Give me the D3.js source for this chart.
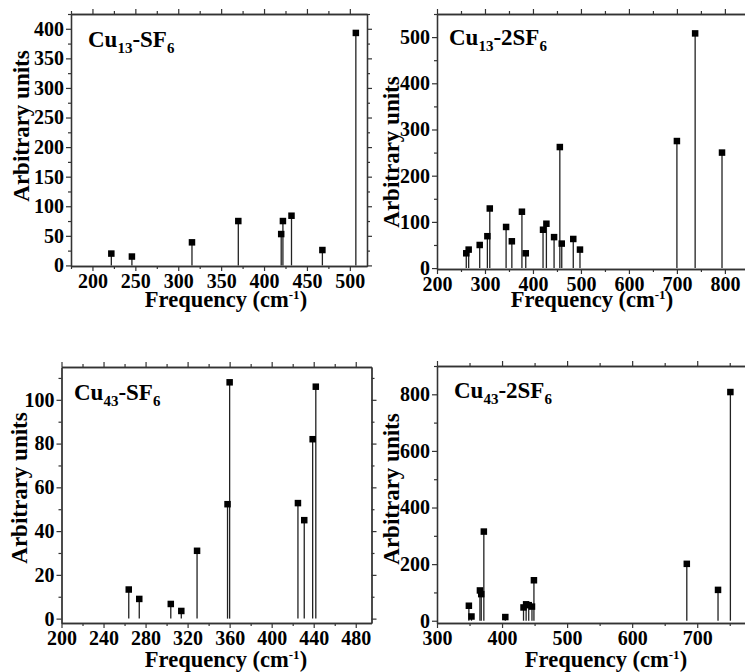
<!DOCTYPE html>
<html>
<head>
<meta charset="utf-8">
<script src="https://cdn.jsdelivr.net/npm/d3@7"></script>
<style>
  body { margin: 0; background: #fff; }
  svg { display: block; }
  .title { font-family: "Liberation Serif", "Times New Roman", serif; font-weight: bold; fill: #000; }
</style>
</head>
<body>
<script>
'use strict';

// Cu13-SF6
const freqA = [222, 246, 316, 370, 420, 422, 432, 468, 507];
const intA  = [20, 15, 39, 75, 53, 75, 84, 26, 393];
const xTicksA = [200, 250, 300, 350, 400, 450, 500];
const yTicksA = [0, 50, 100, 150, 200, 250, 300, 350, 400];

// Cu13-2SF6
const freqB = [261, 266, 289, 305, 310, 344, 356, 377, 385, 421, 428, 444, 456, 460, 484, 498, 700, 738, 794];
const intB  = [32, 40, 50, 69, 129, 89, 58, 122, 32, 83, 96, 67, 262, 53, 63, 40, 275, 508, 250];
const xTicksB = [200, 300, 400, 500, 600, 700, 800];
const yTicksB = [0, 100, 200, 300, 400, 500];

// Cu43-SF6
const freqC = [264, 274, 304, 314, 329, 358, 360, 425, 431, 439, 442];
const intC  = [13.3, 9, 6.7, 3.5, 31, 52.3, 108, 52.8, 45, 82, 106];
const xTicksC = [200, 240, 280, 320, 360, 400, 440, 480];
const yTicksC = [0, 20, 40, 60, 80, 100];

// Cu43-2SF6
const freqD = [349, 353, 366, 368, 372, 405, 433, 437, 441, 446, 449, 684, 732, 751];
const intD  = [53, 15, 107, 94, 315, 13, 47, 58, 55, 50, 143, 201, 109, 808];
const xTicksD = [300, 400, 500, 600, 700];
const yTicksD = [0, 200, 400, 600, 800];

const panels = [
	{ freq: freqA, inten: intA, xTicks: xTicksA, yTicks: yTicksA, sub: "13", mid: "-SF",
	  xDomain: [175, 520], yDomain: [-1, 425], box: [71, 14, 367, 266],
	  label: [88, 47], yTitle: [29, 126], xTitle: [226, 307] },
	{ freq: freqB, inten: intB, xTicks: xTicksB, yTicks: yTicksB, sub: "13", mid: "-2SF",
	  xDomain: [200, 844], yDomain: [-2, 550], box: [437, 14, 746, 269],
	  label: [449, 45], yTitle: [399, 152], xTitle: [592, 307] },
	{ freq: freqC, inten: intC, xTicks: xTicksC, yTicks: yTicksC, sub: "43", mid: "-SF",
	  xDomain: [200, 495], yDomain: [-2, 115], box: [61.5, 367, 371.5, 623],
	  label: [74, 400], yTitle: [27, 488], xTitle: [226, 667] },
	{ freq: freqD, inten: intD, xTicks: xTicksD, yTicks: yTicksD, sub: "43", mid: "-2SF",
	  xDomain: [300, 775], yDomain: [-8, 900], box: [437, 366, 746, 623],
	  label: [454, 398], yTitle: [399, 489], xTitle: [606, 667] }
];

const svg = d3.select("body").append("svg")
	.attr("width", 745)
	.attr("height", 672);

// midpoints between major ticks, plus one step beyond each end
const minorOf = (ticks, domain) => {
	const step = ticks[1] - ticks[0];
	const out = [];
	for (let v = ticks[0] - step / 2; v <= domain[1]; v += step) {
		if (v >= domain[0]) out.push(v);
	}
	return out;
}

const styleAxis = (g) => {
	g.selectAll("path.domain").attr("stroke", "#333").attr("stroke-width", 1.3);
	g.selectAll(".tick line").attr("stroke", "#333").attr("stroke-width", 1.2);
	g.selectAll(".tick text")
		.attr("font-family", "'Liberation Serif', 'Times New Roman', serif")
		.attr("font-weight", "bold")
		.attr("font-size", 20)
		.attr("fill", "#000");
}

const drawPanel = (p) => {
	const [x0, y0, x1, y1] = p.box;
	const x = d3.scaleLinear().domain(p.xDomain).range([x0, x1]);
	const y = d3.scaleLinear().domain(p.yDomain).range([y1, y0]);
	const xMinor = minorOf(p.xTicks, p.xDomain);
	const yMinor = minorOf(p.yTicks, p.yDomain);

	// minor ticks on all four sides
	svg.append("g").attr("transform", `translate(0,${y1})`)
		.call(d3.axisBottom(x).tickValues(xMinor).tickSize(3).tickSizeOuter(0).tickFormat(""))
		.call(styleAxis);
	svg.append("g").attr("transform", `translate(0,${y0})`)
		.call(d3.axisTop(x).tickValues(xMinor).tickSize(3).tickSizeOuter(0).tickFormat(""))
		.call(styleAxis);
	svg.append("g").attr("transform", `translate(${x0},0)`)
		.call(d3.axisLeft(y).tickValues(yMinor).tickSize(3).tickSizeOuter(0).tickFormat(""))
		.call(styleAxis);
	svg.append("g").attr("transform", `translate(${x1},0)`)
		.call(d3.axisRight(y).tickValues(yMinor).tickSize(3).tickSizeOuter(0).tickFormat(""))
		.call(styleAxis);

	// major ticks
	svg.append("g").attr("transform", `translate(0,${y1})`)
		.call(d3.axisBottom(x).tickValues(p.xTicks).tickSize(5).tickSizeOuter(0).tickPadding(3).tickFormat(d3.format("d")))
		.call(styleAxis);
	svg.append("g").attr("transform", `translate(0,${y0})`)
		.call(d3.axisTop(x).tickValues(p.xTicks).tickSize(5).tickSizeOuter(0).tickFormat(""))
		.call(styleAxis);
	svg.append("g").attr("transform", `translate(${x0},0)`)
		.call(d3.axisLeft(y).tickValues(p.yTicks).tickSize(5).tickSizeOuter(0).tickPadding(2).tickFormat(d3.format("d")))
		.call(styleAxis);
	svg.append("g").attr("transform", `translate(${x1},0)`)
		.call(d3.axisRight(y).tickValues(p.yTicks).tickSize(5).tickSizeOuter(0).tickFormat(""))
		.call(styleAxis);

	const pts = p.freq.map((f, i) => ({ f: f, v: p.inten[i] }));

	// stems
	svg.append("g").selectAll("line")
		.data(pts)
		.join("line")
		.attr("x1", d => x(d.f))
		.attr("x2", d => x(d.f))
		.attr("y1", y(0))
		.attr("y2", d => y(d.v))
		.attr("stroke", "#222")
		.attr("stroke-width", 1.3);

	// square markers
	const s = 6.5;
	svg.append("g").selectAll("rect")
		.data(pts)
		.join("rect")
		.attr("x", d => x(d.f) - s / 2)
		.attr("y", d => y(d.v) - s / 2)
		.attr("width", s)
		.attr("height", s)
		.attr("fill", "#000");

	// panel label
	const lab = svg.append("text").attr("class", "title")
		.attr("x", p.label[0]).attr("y", p.label[1])
		.attr("font-size", 23);
	lab.append("tspan").text("Cu");
	lab.append("tspan").attr("font-size", 15).attr("dy", 6).text(p.sub);
	lab.append("tspan").attr("dy", -6).text(p.mid);
	lab.append("tspan").attr("font-size", 15).attr("dy", 6).text("6");

	// axis titles
	svg.append("text").attr("class", "title")
		.attr("transform", `translate(${p.yTitle[0]},${p.yTitle[1]}) rotate(-90)`)
		.attr("text-anchor", "middle")
		.attr("font-size", 23)
		.text("Arbitrary units");

	const xt = svg.append("text").attr("class", "title")
		.attr("x", p.xTitle[0]).attr("y", p.xTitle[1])
		.attr("text-anchor", "middle")
		.attr("font-size", 22.5);
	xt.append("tspan").text("Frequency (cm");
	xt.append("tspan").attr("font-size", 13).attr("dy", -8).text("-1");
	xt.append("tspan").attr("dy", 8).text(")");
}

panels.forEach(drawPanel);
</script>
</body>
</html>
